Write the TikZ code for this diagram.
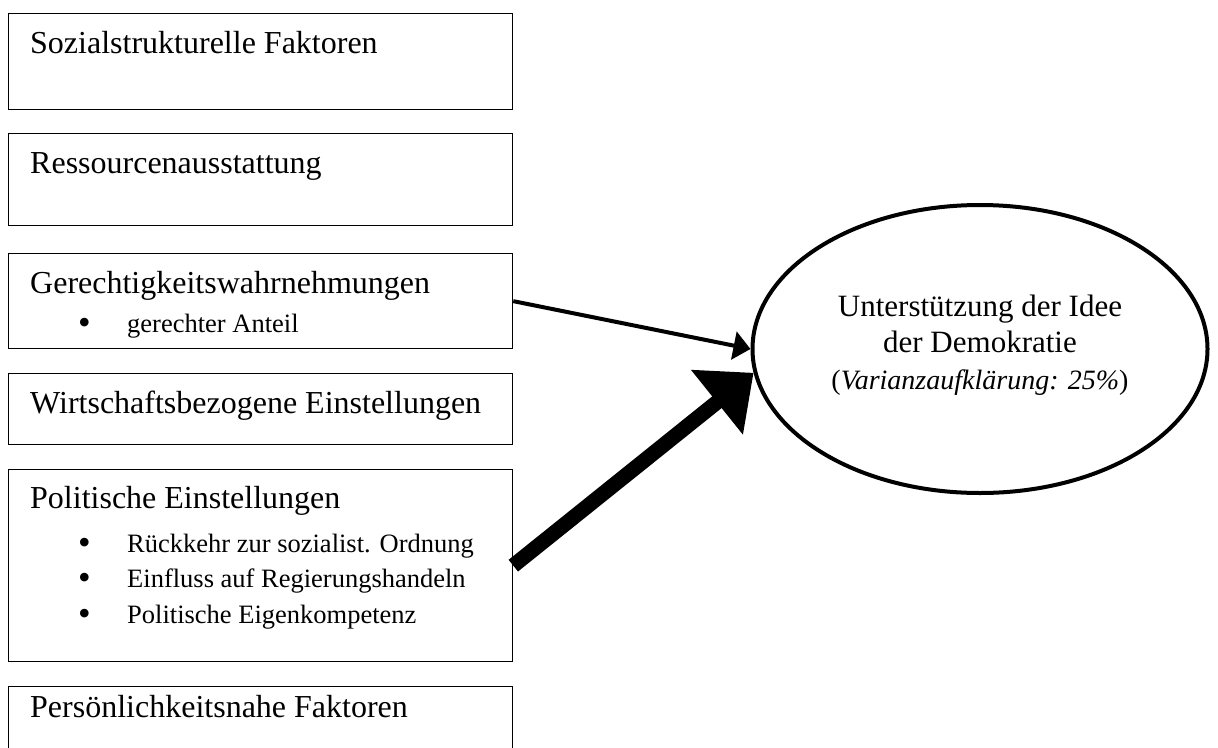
\documentclass[tikz,border=0pt]{standalone}
\usepackage{fontspec}
\setmainfont{Liberation Serif}
\usetikzlibrary{arrows.meta,positioning,shapes.geometric}
\newcommand{\blt}{{\fontsize{36}{30}\selectfont\raisebox{-2pt}{•}}}
\tikzset{
  factor/.style={draw=black,line width=1.3pt,anchor=north west,minimum width=504pt,
    minimum height=#1,inner sep=0pt},
  head/.style={anchor=base west,inner sep=0pt,font=\fontsize{32}{37}\selectfont},
  item/.style={anchor=base west,inner sep=0pt,font=\fontsize{26.5}{30}\selectfont},
  target/.style={ellipse,draw=black,line width=4pt,minimum width=455pt,minimum height=288pt,
    inner sep=0pt},
  link/.style={draw=black,line width=#1},
}
\begin{document}
\begin{tikzpicture}[x=1pt,y=-1pt]
  \clip (0,0) rectangle (1218,747);
  % Faktorenblöcke links
  \foreach \n/\y/\h in {soz/13/96,res/133/92,ger/253/95,wir/373/71,pol/469/192,per/686/110}
    \node[factor=\h pt] (\n) at (8,\y) {};
  \node[head] (soz-t) at (30,53) {Sozialstrukturelle Faktoren};
  \node[head] (res-t) at (30,173) {Ressourcenausstattung};
  \node[head] (ger-t) at (30,293) {Gerechtigkeitswahrnehmungen};
  \node[item] (ger-a) at (78,332) {\makebox[49pt][l]{\blt}gerechter Anteil};
  \node[head] (wir-t) at (30,413) {Wirtschaftsbezogene Einstellungen};
  \node[head] (pol-t) at (30,508) {Politische Einstellungen};
  \foreach \i/\y/\t in {a/552/Rückkehr zur sozialist. Ordnung,b/587/Einfluss auf Regierungshandeln,c/623/Politische Eigenkompetenz}
    \node[item] (pol-\i) at (78,\y) {\makebox[49pt][l]{\blt}\t};
  \node[head] (per-t) at (30,717) {Persönlichkeitsnahe Faktoren};
  % abhängige Variable
  \node[target] (idee) at (980,349) {};
  \node[align=center,inner sep=0pt,font=\fontsize{31}{36}\selectfont] (idee-t) at (980,345)
    {Unterstützung der Idee\\der Demokratie\\[1pt]
    {\fontsize{28}{30}\selectfont(\textit{Varianzaufklärung: 25\%})}};
  \draw[link=4pt,-{Triangle[length=17pt,width=28pt]}] (ger.east) -- (idee.west);
  \draw[link=15pt,-{Triangle[length=47pt,width=80pt]}] (pol.east) -- (idee.186);
\end{tikzpicture}
\end{document}
